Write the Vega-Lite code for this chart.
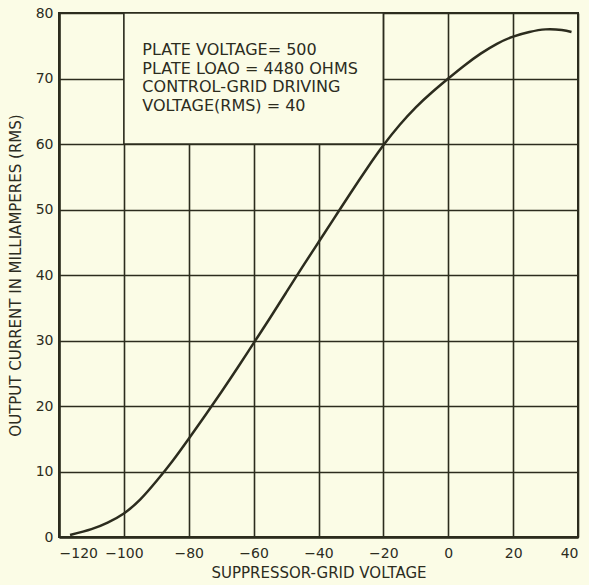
{
  "$schema": "https://vega.github.io/schema/vega-lite/v6.json",
  "autosize": "none",
  "width": 519,
  "height": 524,
  "padding": {"left": 59, "top": 13, "right": 11, "bottom": 48},
  "background": "#fbfce6",
  "config": {
    "view": {"stroke": "#2c2c1e", "strokeWidth": 2},
    "font": "DejaVu Sans",
    "axis": {
      "domainColor": "#2c2c1e",
      "domainWidth": 2.5,
      "gridColor": "#2c2c1e",
      "gridOpacity": 1,
      "gridWidth": 1.6,
      "ticks": false,
      "labelColor": "#2c2c1e",
      "titleColor": "#2c2c1e",
      "labelFont": "DejaVu Sans",
      "titleFont": "DejaVu Sans",
      "labelFontSize": 14,
      "titleFontSize": 15,
      "titleFontWeight": "normal"
    }
  },
  "datasets": {
    "curve": [
      {"v": -116.6, "i": 0.3},
      {"v": -110, "i": 1.2},
      {"v": -105, "i": 2.2},
      {"v": -100, "i": 3.6},
      {"v": -95, "i": 5.7},
      {"v": -90, "i": 8.5},
      {"v": -85, "i": 11.6},
      {"v": -80, "i": 15.0},
      {"v": -75, "i": 18.5},
      {"v": -70, "i": 22.1},
      {"v": -65, "i": 25.8},
      {"v": -60, "i": 29.6},
      {"v": -55, "i": 33.4},
      {"v": -50, "i": 37.3},
      {"v": -45, "i": 41.2},
      {"v": -40, "i": 45.0},
      {"v": -35, "i": 48.8},
      {"v": -30, "i": 52.6},
      {"v": -25, "i": 56.3},
      {"v": -20, "i": 59.8},
      {"v": -15, "i": 62.9},
      {"v": -10, "i": 65.6},
      {"v": -5, "i": 67.9},
      {"v": 0, "i": 70.0},
      {"v": 5, "i": 72.0},
      {"v": 10, "i": 73.8},
      {"v": 15, "i": 75.3},
      {"v": 20, "i": 76.4},
      {"v": 25, "i": 77.1},
      {"v": 30, "i": 77.5},
      {"v": 35, "i": 77.4},
      {"v": 38, "i": 77.1}
    ],
    "box": [{"x1": -100, "x2": -20, "y1": 60, "y2": 80}],
    "note": [{"t": ["PLATE VOLTAGE= 500", "PLATE LOAO = 4480 OHMS", "CONTROL-GRID DRIVING", " VOLTAGE(RMS) = 40"]}]
  },
  "layer": [
    {
      "data": {"name": "box"},
      "mark": {"type": "rect", "fill": "#fbfce6", "stroke": "#2c2c1e", "strokeWidth": 1.6},
      "encoding": {
        "x": {"field": "x1", "type": "quantitative", "scale": {"domain": [-120, 40], "nice": false},
              "axis": {"values": [-120, -100, -80, -60, -40, -20, 0, 20, 40], "title": "SUPPRESSOR-GRID   VOLTAGE", "labelPadding": 9, "titlePadding": 5}},
        "x2": {"field": "x2"},
        "y": {"field": "y1", "type": "quantitative", "scale": {"domain": [0, 80], "nice": false},
              "axis": {"values": [0, 10, 20, 30, 40, 50, 60, 70, 80], "title": "OUTPUT   CURRENT   IN   MILLIAMPERES   (RMS)", "labelPadding": 6, "titlePadding": 12}},
        "y2": {"field": "y2"}
      }
    },
    {
      "data": {"name": "note"},
      "mark": {"type": "text", "align": "left", "baseline": "alphabetic", "fontSize": 16, "lineHeight": 18.7, "color": "#2c2c1e", "font": "DejaVu Sans"},
      "encoding": {
        "x": {"datum": -94.3, "type": "quantitative"},
        "y": {"datum": 73.6, "type": "quantitative"},
        "text": {"field": "t"}
      }
    },
    {
      "data": {"name": "curve"},
      "mark": {"type": "line", "interpolate": "natural", "color": "#2c2c1e", "strokeWidth": 2.5},
      "encoding": {
        "x": {"field": "v", "type": "quantitative"},
        "y": {"field": "i", "type": "quantitative"}
      }
    }
  ]
}
